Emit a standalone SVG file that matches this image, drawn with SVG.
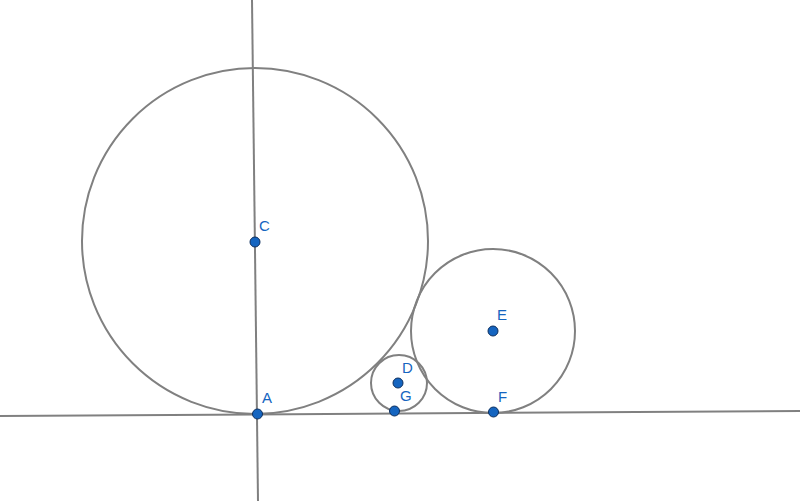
<svg xmlns="http://www.w3.org/2000/svg" width="800" height="501" viewBox="0 0 800 501">
<style>
.ln{stroke:#808080;stroke-width:2;fill:none}
.pt{fill:#1565c0;stroke:#0d2f5e;stroke-width:1}
.lb{fill:#1565c0;font-family:"Liberation Sans",Arial,sans-serif;font-size:15px}
</style>
<rect width="800" height="501" fill="#ffffff"/>
<g id="connectors">
<line class="ln" x1="252" y1="0" x2="258" y2="501"/>
<line class="ln" x1="0" y1="416" x2="800" y2="411"/>
<circle class="ln" cx="255" cy="241" r="173"/>
<circle class="ln" cx="493" cy="331" r="82"/>
<circle class="ln" cx="399" cy="383" r="28"/>
</g>
<g id="C"><circle class="pt" cx="255" cy="242" r="5"/><text class="lb" x="259" y="231">C</text></g>
<g id="A"><circle class="pt" cx="257.5" cy="414" r="5"/><text class="lb" x="262" y="403">A</text></g>
<g id="D"><circle class="pt" cx="398" cy="383" r="5"/><text class="lb" x="402" y="373">D</text></g>
<g id="G"><circle class="pt" cx="394.5" cy="411" r="5"/><text class="lb" x="400" y="401">G</text></g>
<g id="E"><circle class="pt" cx="493" cy="331" r="5"/><text class="lb" x="497" y="320">E</text></g>
<g id="F"><circle class="pt" cx="493.5" cy="412" r="5"/><text class="lb" x="498" y="402">F</text></g>
</svg>
